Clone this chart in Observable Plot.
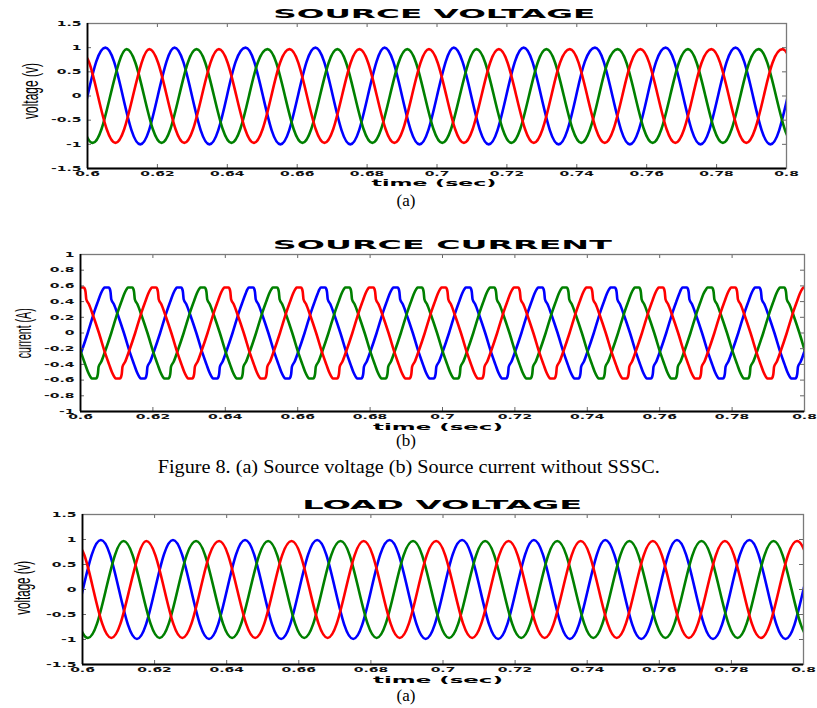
<!DOCTYPE html>
<html>
<head>
<meta charset="utf-8">
<script src="https://cdn.jsdelivr.net/npm/d3@7"></script>
<script src="https://cdn.jsdelivr.net/npm/@observablehq/plot@0.6"></script>
<style>
  html, body { margin: 0; padding: 0; background: #fff; }
  #root { position: relative; width: 817px; height: 708px; overflow: hidden; background: #fff; }
  #root svg { position: absolute; left: 0; overflow: visible; }
</style>
</head>
<body>
<div id="root"></div>
<script>
// ---------------- data ----------------
const timeTicks = [0.6, 0.62, 0.64, 0.66, 0.68, 0.7, 0.72, 0.74, 0.76, 0.78, 0.8];
const voltTicks = [-1.5, -1, -0.5, 0, 0.5, 1, 1.5];
const currTicks = [-1, -0.8, -0.6, -0.4, -0.2, 0, 0.2, 0.4, 0.6, 0.8, 1];

const phaseNames = ["phase a", "phase b", "phase c"];
const phaseColors = ["#0000ff", "#008000", "#ff0000"];

// SOURCE VOLTAGE: times (s) of the positive peaks of each phase, and peak values
const srcVoltPeaksBlue  = [0.5850, 0.6051, 0.6249, 0.6452, 0.6652, 0.6850, 0.7048, 0.7248, 0.7452, 0.7654, 0.7854];
const srcVoltPeaksGreen = [0.5915, 0.6112, 0.6312, 0.6515, 0.6715, 0.6915, 0.7113, 0.7313, 0.7517, 0.7718, 0.7920];
const srcVoltPeaksRed   = [0.5980, 0.6177, 0.6376, 0.6578, 0.6778, 0.6977, 0.7177, 0.7380, 0.7582, 0.7785, 0.7988];
const srcVoltAmps = [1.0, 0.97, 0.97];

// LOAD VOLTAGE: times (s) of the positive peaks of each phase, and peak values
const loadVoltPeaksBlue  = [0.5851, 0.6051, 0.6251, 0.6451, 0.6651, 0.6852, 0.7053, 0.7252, 0.7450, 0.7649, 0.7850];
const loadVoltPeaksGreen = [0.5915, 0.6114, 0.6315, 0.6515, 0.6716, 0.6917, 0.7117, 0.7317, 0.7517, 0.7717, 0.7917];
const loadVoltPeaksRed   = [0.5980, 0.6177, 0.6379, 0.6580, 0.6780, 0.6981, 0.7182, 0.7382, 0.7582, 0.7782, 0.7982];
const loadVoltAmps = [0.99, 0.97, 0.97];

// one voltage cycle: offset from a peak (s) and value relative to the peak
const voltCycleDt    = [0, 0.0025, 0.005, 0.0075, 0.01, 0.0125, 0.015, 0.0175];
const voltCycleShape = [1, 0.71, 0, -0.71, -1, -0.71, 0, 0.71];

// SOURCE CURRENT: times (s) of the centre of each flat positive peak
const curPeaksBlue  = [0.5872, 0.6072, 0.6272, 0.6471, 0.6670, 0.6870, 0.7070, 0.7270, 0.7470, 0.7669, 0.7869];
const curPeaksGreen = [0.5937, 0.6137, 0.6337, 0.6537, 0.6737, 0.6937, 0.7137, 0.7337, 0.7537, 0.7738, 0.7938];
const curPeaksRed   = [0.5803, 0.6003, 0.6203, 0.6403, 0.6603, 0.6803, 0.7003, 0.7203, 0.7403, 0.7603, 0.7803, 0.8003];

// one current cycle (flat top, small step after each extreme, ramp)
const curCycleDt  = [-0.0010, -0.0006, 0.0006, 0.0009, 0.0011, 0.0013, 0.0020, 0.0032, 0.0048, 0.0066, 0.0076, 0.0084,
                      0.0090, 0.0094, 0.0106, 0.0109, 0.0111, 0.0113, 0.0120, 0.0132, 0.0148, 0.0166, 0.0176, 0.0184];
const curCycleVal = [0.555, 0.58, 0.58, 0.56, 0.52, 0.43, 0.37, 0.22, 0.0, -0.27, -0.40, -0.50,
                     -0.555, -0.58, -0.58, -0.56, -0.52, -0.43, -0.37, -0.22, 0.0, 0.27, 0.40, 0.50];

// ---------------- build tables ----------------
function buildSeries(peaks, dts, shape, amp) {
  const out = [];
  for (const tp of peaks) for (let i = 0; i < dts.length; i++) out.push({t: tp + dts[i], v: shape[i] * amp});
  return out;
}
const srcVolt = [
  buildSeries(srcVoltPeaksBlue, voltCycleDt, voltCycleShape, srcVoltAmps[0]),
  buildSeries(srcVoltPeaksGreen, voltCycleDt, voltCycleShape, srcVoltAmps[1]),
  buildSeries(srcVoltPeaksRed, voltCycleDt, voltCycleShape, srcVoltAmps[2])
];
const loadVolt = [
  buildSeries(loadVoltPeaksBlue, voltCycleDt, voltCycleShape, loadVoltAmps[0]),
  buildSeries(loadVoltPeaksGreen, voltCycleDt, voltCycleShape, loadVoltAmps[1]),
  buildSeries(loadVoltPeaksRed, voltCycleDt, voltCycleShape, loadVoltAmps[2])
];
const srcCurr = [
  buildSeries(curPeaksBlue, curCycleDt, curCycleVal, 1),
  buildSeries(curPeaksGreen, curCycleDt, curCycleVal, 1),
  buildSeries(curPeaksRed, curCycleDt, curCycleVal, 1)
];

// ---------------- drawing ----------------
const root = document.getElementById("root");
const fmt = d => String(d);

function stretchText(svg, sx) {
  svg.querySelectorAll("text").forEach(t => {
    const x = +t.getAttribute("x") || 0, y = +t.getAttribute("y") || 0;
    const tr = t.getAttribute("transform") || "";
    t.setAttribute("transform", `${tr} translate(${x},${y}) scale(${sx},1) translate(${-x},${-y})`);
  });
}

function panel({series, yDomain, yTicks, frameTop, frameBottom, frameLeft, frameRight, curve}) {
  const mt = 4, mb = 13;
  const pw = frameRight - frameLeft, ph = frameBottom - frameTop;
  const tickLen = 4;
  const svg = Plot.plot({
    width: 817,
    height: mt + ph + mb,
    marginTop: mt, marginBottom: mb,
    marginLeft: frameLeft, marginRight: 817 - frameRight,
    x: {domain: [0.6, 0.8], label: null},
    y: {domain: yDomain, label: null},
    style: {fontFamily: "'DejaVu Sans', sans-serif", fontSize: "7px", fontWeight: "bold", color: "#111", background: "transparent"},
    marks: [
      ...series.map((s, i) => Plot.line(s, {x: "t", y: "v", stroke: phaseColors[i], strokeWidth: 2.6, curve, clip: true})),
      // inward ticks (MATLAB style) on all four sides
      Plot.tickY(yTicks, {y: d => d, insetRight: pw - tickLen, stroke: "#666", strokeWidth: 1}),
      Plot.tickY(yTicks, {y: d => d, insetLeft: pw - tickLen, stroke: "#666", strokeWidth: 1}),
      Plot.tickX(timeTicks, {x: d => d, insetBottom: ph - tickLen, stroke: "#666", strokeWidth: 1}),
      Plot.tickX(timeTicks, {x: d => d, insetTop: ph - tickLen, stroke: "#666", strokeWidth: 1}),
      Plot.frame({stroke: "#7a7a7a", strokeWidth: 1.3}),
      Plot.ruleX([0.6], {stroke: "#000", strokeWidth: 1.8}),
      Plot.ruleY([yDomain[0]], {stroke: "#000", strokeWidth: 1.8}),
      Plot.axisX(timeTicks, {tickSize: 0, tickPadding: 2.5, tickFormat: fmt, label: null}),
      Plot.axisY(yTicks, {tickSize: 0, tickPadding: 6, tickFormat: fmt, label: null})
    ]
  });
  svg.style.top = (frameTop - mt) + "px";
  root.appendChild(svg);
  stretchText(svg, 2);
  return svg;
}

panel({series: srcVolt, yDomain: [-1.5, 1.5], yTicks: voltTicks, frameTop: 23, frameBottom: 168, frameLeft: 87, frameRight: 786, curve: "natural"});
panel({series: srcCurr, yDomain: [-1, 1], yTicks: currTicks, frameTop: 254, frameBottom: 411, frameLeft: 80, frameRight: 804, curve: "monotone-x"});
panel({series: loadVolt, yDomain: [-1.5, 1.5], yTicks: voltTicks, frameTop: 514, frameBottom: 664, frameLeft: 82, frameRight: 803, curve: "natural"});

// ---------------- HTML texts ----------------
function addText(str, {cx, cy, font, size, weight = "normal", width}) {
  const el = document.createElement("div");
  el.textContent = str;
  Object.assign(el.style, {position: "absolute", whiteSpace: "nowrap", fontFamily: font, fontSize: size + "px",
    fontWeight: weight, lineHeight: "1", left: "0px", top: "0px", color: "#000"});
  root.appendChild(el);
  const r = el.getBoundingClientRect();
  el.style.left = (cx - r.width / 2) + "px";
  el.style.top = (cy - r.height / 2) + "px";
  el.style.transformOrigin = "center";
  if (width) el.style.transform = `scaleX(${width / r.width})`;
  return el;
}
function addRotText(str, {cx, cy, len, thick, font}) {
  const el = document.createElement("div");
  el.textContent = str;
  Object.assign(el.style, {position: "absolute", whiteSpace: "nowrap", fontFamily: font, fontSize: "12px",
    lineHeight: "1", left: "0px", top: "0px", color: "#000"});
  root.appendChild(el);
  const w0 = el.getBoundingClientRect().width;
  const fs = 12 * len / w0;
  el.style.fontSize = fs + "px";
  const r = el.getBoundingClientRect();
  el.style.left = (cx - r.width / 2) + "px";
  el.style.top = (cy - r.height / 2) + "px";
  el.style.transformOrigin = "center";
  el.style.transform = `scaleX(${thick / (fs * 1.15)}) rotate(-90deg)`;
  return el;
}

const titleFont = "'DejaVu Sans', sans-serif";
const serif = "'Liberation Serif', 'Times New Roman', serif";
const sans = "'Liberation Sans', Arial, sans-serif";

addText("SOURCE VOLTAGE", {cx: 434, cy: 13, font: titleFont, size: 13, weight: "bold", width: 322});
addText("SOURCE CURRENT", {cx: 442, cy: 244, font: titleFont, size: 13, weight: "bold", width: 339});
addText("LOAD VOLTAGE", {cx: 442, cy: 504.5, font: titleFont, size: 13, weight: "bold", width: 280});

addText("time (sec)", {cx: 434, cy: 183, font: titleFont, size: 9.5, weight: "bold", width: 125});
addText("time (sec)", {cx: 438, cy: 427, font: titleFont, size: 9.5, weight: "bold", width: 130});
addText("time (sec)", {cx: 438, cy: 680, font: titleFont, size: 9.5, weight: "bold", width: 130});

addRotText("voltage (v)", {cx: 30, cy: 91, len: 56, thick: 26, font: sans});
addRotText("current (A)", {cx: 23, cy: 333, len: 50, thick: 26, font: sans});
addRotText("voltage (v)", {cx: 24, cy: 588, len: 54, thick: 26, font: sans});

addText("(a)", {cx: 406, cy: 200, font: serif, size: 17});
addText("(b)", {cx: 406, cy: 440, font: serif, size: 17});
addText("(a)", {cx: 406, cy: 695, font: serif, size: 17});

addText("Figure 8. (a) Source voltage (b) Source current without SSSC.", {cx: 409, cy: 467, font: serif, size: 18, width: 502});
</script>
</body>
</html>
